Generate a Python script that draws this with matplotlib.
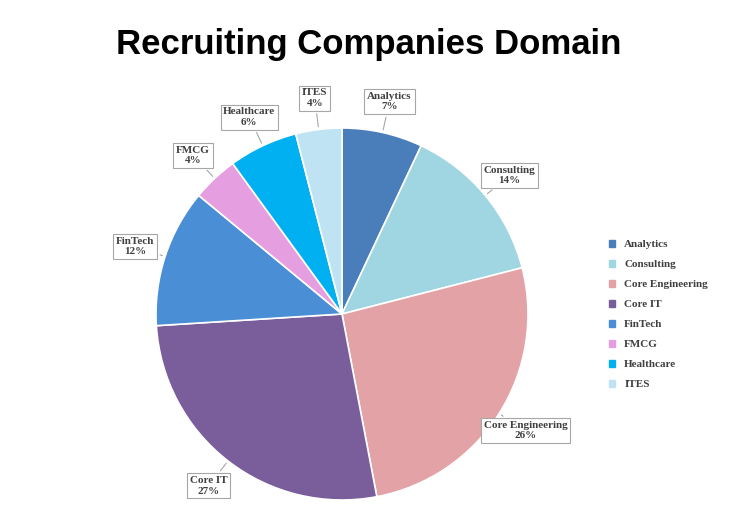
import matplotlib
matplotlib.use("Agg")
import matplotlib.pyplot as plt
import numpy as np

categories = ["Analytics", "Consulting", "Core Engineering", "Core IT", "FinTech", "FMCG", "Healthcare", "ITES"]
values = [7, 14, 26, 27, 12, 4, 6, 4]
colors = ["#4a7ebb", "#9fd6e2", "#e3a3a6", "#7a5e9c", "#4a8fd6", "#e59ee0", "#00b0f0", "#bfe3f3"]

fig = plt.figure(figsize=(7.53, 5.2), dpi=100)
fig.text(0.49, 0.915, "Recruiting Companies Domain", ha="center", va="center",
         fontsize=25, fontweight="bold", family="Liberation Sans")
ax = fig.add_axes([(342 - 186) / 753, 20 / 520, 372 / 753, 372 / 520])
wedges, _ = ax.pie(values, colors=colors, startangle=90, counterclock=False,
                   wedgeprops=dict(edgecolor="white", linewidth=1.2))
ax.set_xlim(-1, 1); ax.set_ylim(-1, 1); ax.set_aspect("equal")

font = dict(family="Liberation Serif", fontweight="bold", fontsize=8, color="#404040")
for w, c, v in zip(wedges, categories, values):
    ang = np.deg2rad((w.theta1 + w.theta2) / 2)
    x, y = np.cos(ang), np.sin(ang)
    r = 1.17
    ax.annotate(f"{c}\n{v}%", xy=(x, y), xytext=(r * x, r * y), ha="center", va="center",
                bbox=dict(boxstyle="square,pad=0.25", fc="white", ec="#a6a6a6", lw=0.8),
                arrowprops=dict(arrowstyle="-", color="#a6a6a6", lw=0.8),
                annotation_clip=False, **font)

handles = [plt.Rectangle((0, 0), 1, 1, color=col) for col in colors]
leg = fig.legend(handles, categories, loc="center left", bbox_to_anchor=(0.795, 0.395),
                 frameon=False, handlelength=0.6, handleheight=0.6, labelspacing=0.95,
                 prop=dict(family="Liberation Serif", weight="bold", size=8))
for t in leg.get_texts():
    t.set_color("#404040")
fig.savefig("out.png", dpi=100)
